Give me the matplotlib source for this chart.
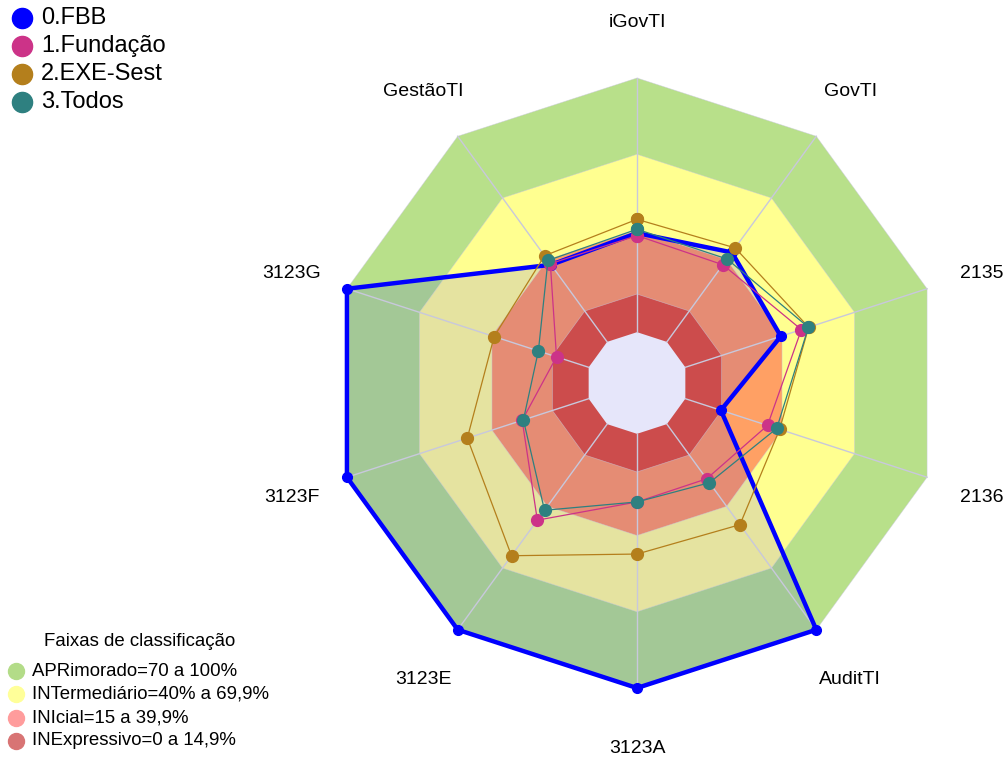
import matplotlib.pyplot as plt
import numpy as np
from matplotlib.patches import Polygon
from matplotlib.lines import Line2D

plt.rcParams['font.family'] = ['Liberation Sans', 'DejaVu Sans']

# Axis names, clockwise from the top
axis_labels = ["iGovTI", "GovTI", "2135", "2136", "AuditTI",
               "3123A", "3123E", "3123F", "3123G", "GestãoTI"]

# Series values (%)
fbb = [39, 43.5, 39.5, 14.7, 100, 100, 100, 100, 100, 37.5]
fundacao = [38, 37.5, 48, 34, 26.6, 26.8, 46.7, 27.5, 13.3, 38]
exe_sest = [44.4, 45.7, 51, 39, 48.9, 47.3, 64, 50.2, 39.1, 41.9]
todos = [40.5, 40.3, 50.9, 37.8, 28.5, 26.8, 41.9, 27, 20.8, 39.6]

series_names = ["0.FBB", "1.Fundação", "2.EXE-Sest", "3.Todos"]
series_values = [fbb, fundacao, exe_sest, todos]
series_colors = ["#0000FF", "#CC3388", "#B47F1C", "#2E8080"]

# Classification bands (upper limit of each)
band_limits = [100, 70, 40, 15]
band_labels = ["APRimorado=70 a 100%", "INTermediário=40% a 69,9%",
               "INIcial=15 a 39,9%", "INExpressivo=0 a 14,9%"]
band_out = ["#B8E08A", "#FFFF90", "#FFA064", "#CC4C4C"]
band_in = ["#A3C896", "#E5E3A0", "#E58C74", "#CC4C4C"]
band_legend = ["#B3DC88", "#FFFF99", "#FF9C9C", "#D87474"]

n = len(axis_labels)
theta = np.arange(n) * 2 * np.pi / n


def rad(v):
    # radarchart style: centre hole of 1/6, 5 segments
    return (1 + 5 * np.asarray(v, dtype=float) / 100) / 6


def xy(values):
    r = rad(values)
    return np.column_stack([r * np.sin(theta), r * np.cos(theta)])


W, H = 1007, 760
cx, cy, R = 637, 383, 305

fig = plt.figure(figsize=(W / 100, H / 100), dpi=100)
ax = fig.add_axes([0, 0, 1, 1])
ax.set_xlim(-cx / R, (W - cx) / R)
ax.set_ylim(-(H - cy) / R, cy / R)
ax.axis('off')

# FBB area used to shade bands inside it
fbb_clip = Polygon(xy(fbb), closed=True, transform=ax.transData)

for lim, c_out, c_in in zip(band_limits, band_out, band_in):
    ring = xy([lim] * n)
    ax.add_patch(Polygon(ring, closed=True, facecolor=c_out, edgecolor='none', zorder=1))
    p = Polygon(ring, closed=True, facecolor=c_in, edgecolor='none', zorder=1.1)
    ax.add_patch(p)
    p.set_clip_path(fbb_clip)

# centre hole
ax.add_patch(Polygon(xy([0] * n), closed=True, facecolor="#E6E6FA", edgecolor='none', zorder=1.2))

# grid lines
for lim in band_limits:
    ring = xy([lim] * n)
    ax.add_patch(Polygon(ring, closed=True, fill=False, edgecolor="#C8C8DC",
                         lw=0.5, alpha=0.6, zorder=1.3))
inner = xy([0] * n)
outer = xy([100] * n)
for i in range(n):
    ax.plot([inner[i, 0], outer[i, 0]], [inner[i, 1], outer[i, 1]],
            color="#C8C8DC", lw=1.0, zorder=1.4)

# series
for k, (vals, col) in enumerate(zip(series_values, series_colors)):
    pts = xy(vals)
    pts = np.vstack([pts, pts[:1]])
    if k == 0:
        ax.plot(pts[:, 0], pts[:, 1], color=col, lw=3.2, marker='o', ms=7,
                zorder=3, solid_joinstyle='miter')
    else:
        ax.plot(pts[:, 0], pts[:, 1], color=col, lw=0.9, marker='o', ms=8.5,
                zorder=3 + k)

# axis labels
for i, lab in enumerate(axis_labels):
    r = 1.19
    ax.text(r * np.sin(theta[i]), r * np.cos(theta[i]) - 2.5 / R, lab,
            ha='center', va='center', fontsize=14, zorder=6)


def fx(px):
    return px / W


def fy(py):
    return 1 - py / H


# top legend (series)
for i, (name, col) in enumerate(zip(series_names, series_colors)):
    y = 18 + 28 * i
    fig.add_artist(Line2D([fx(22)], [fy(y)], marker='o', ms=14.5, color=col,
                          transform=fig.transFigure))
    fig.text(fx(41), fy(y), name, fontsize=17, ha='left', va='center')

# bottom legend (bands)
fig.text(fx(140), fy(642), "Faixas de classificação", fontsize=13.4,
         ha='center', va='center')
for i, (lab, col) in enumerate(zip(band_labels, band_legend)):
    y = 671 + 23.3 * i
    fig.add_artist(Line2D([fx(16)], [fy(y)], marker='o', ms=11.5, color=col,
                          transform=fig.transFigure))
    fig.text(fx(32), fy(y), lab, fontsize=13.4, ha='left', va='center')

fig.savefig("out.png", dpi=100)
